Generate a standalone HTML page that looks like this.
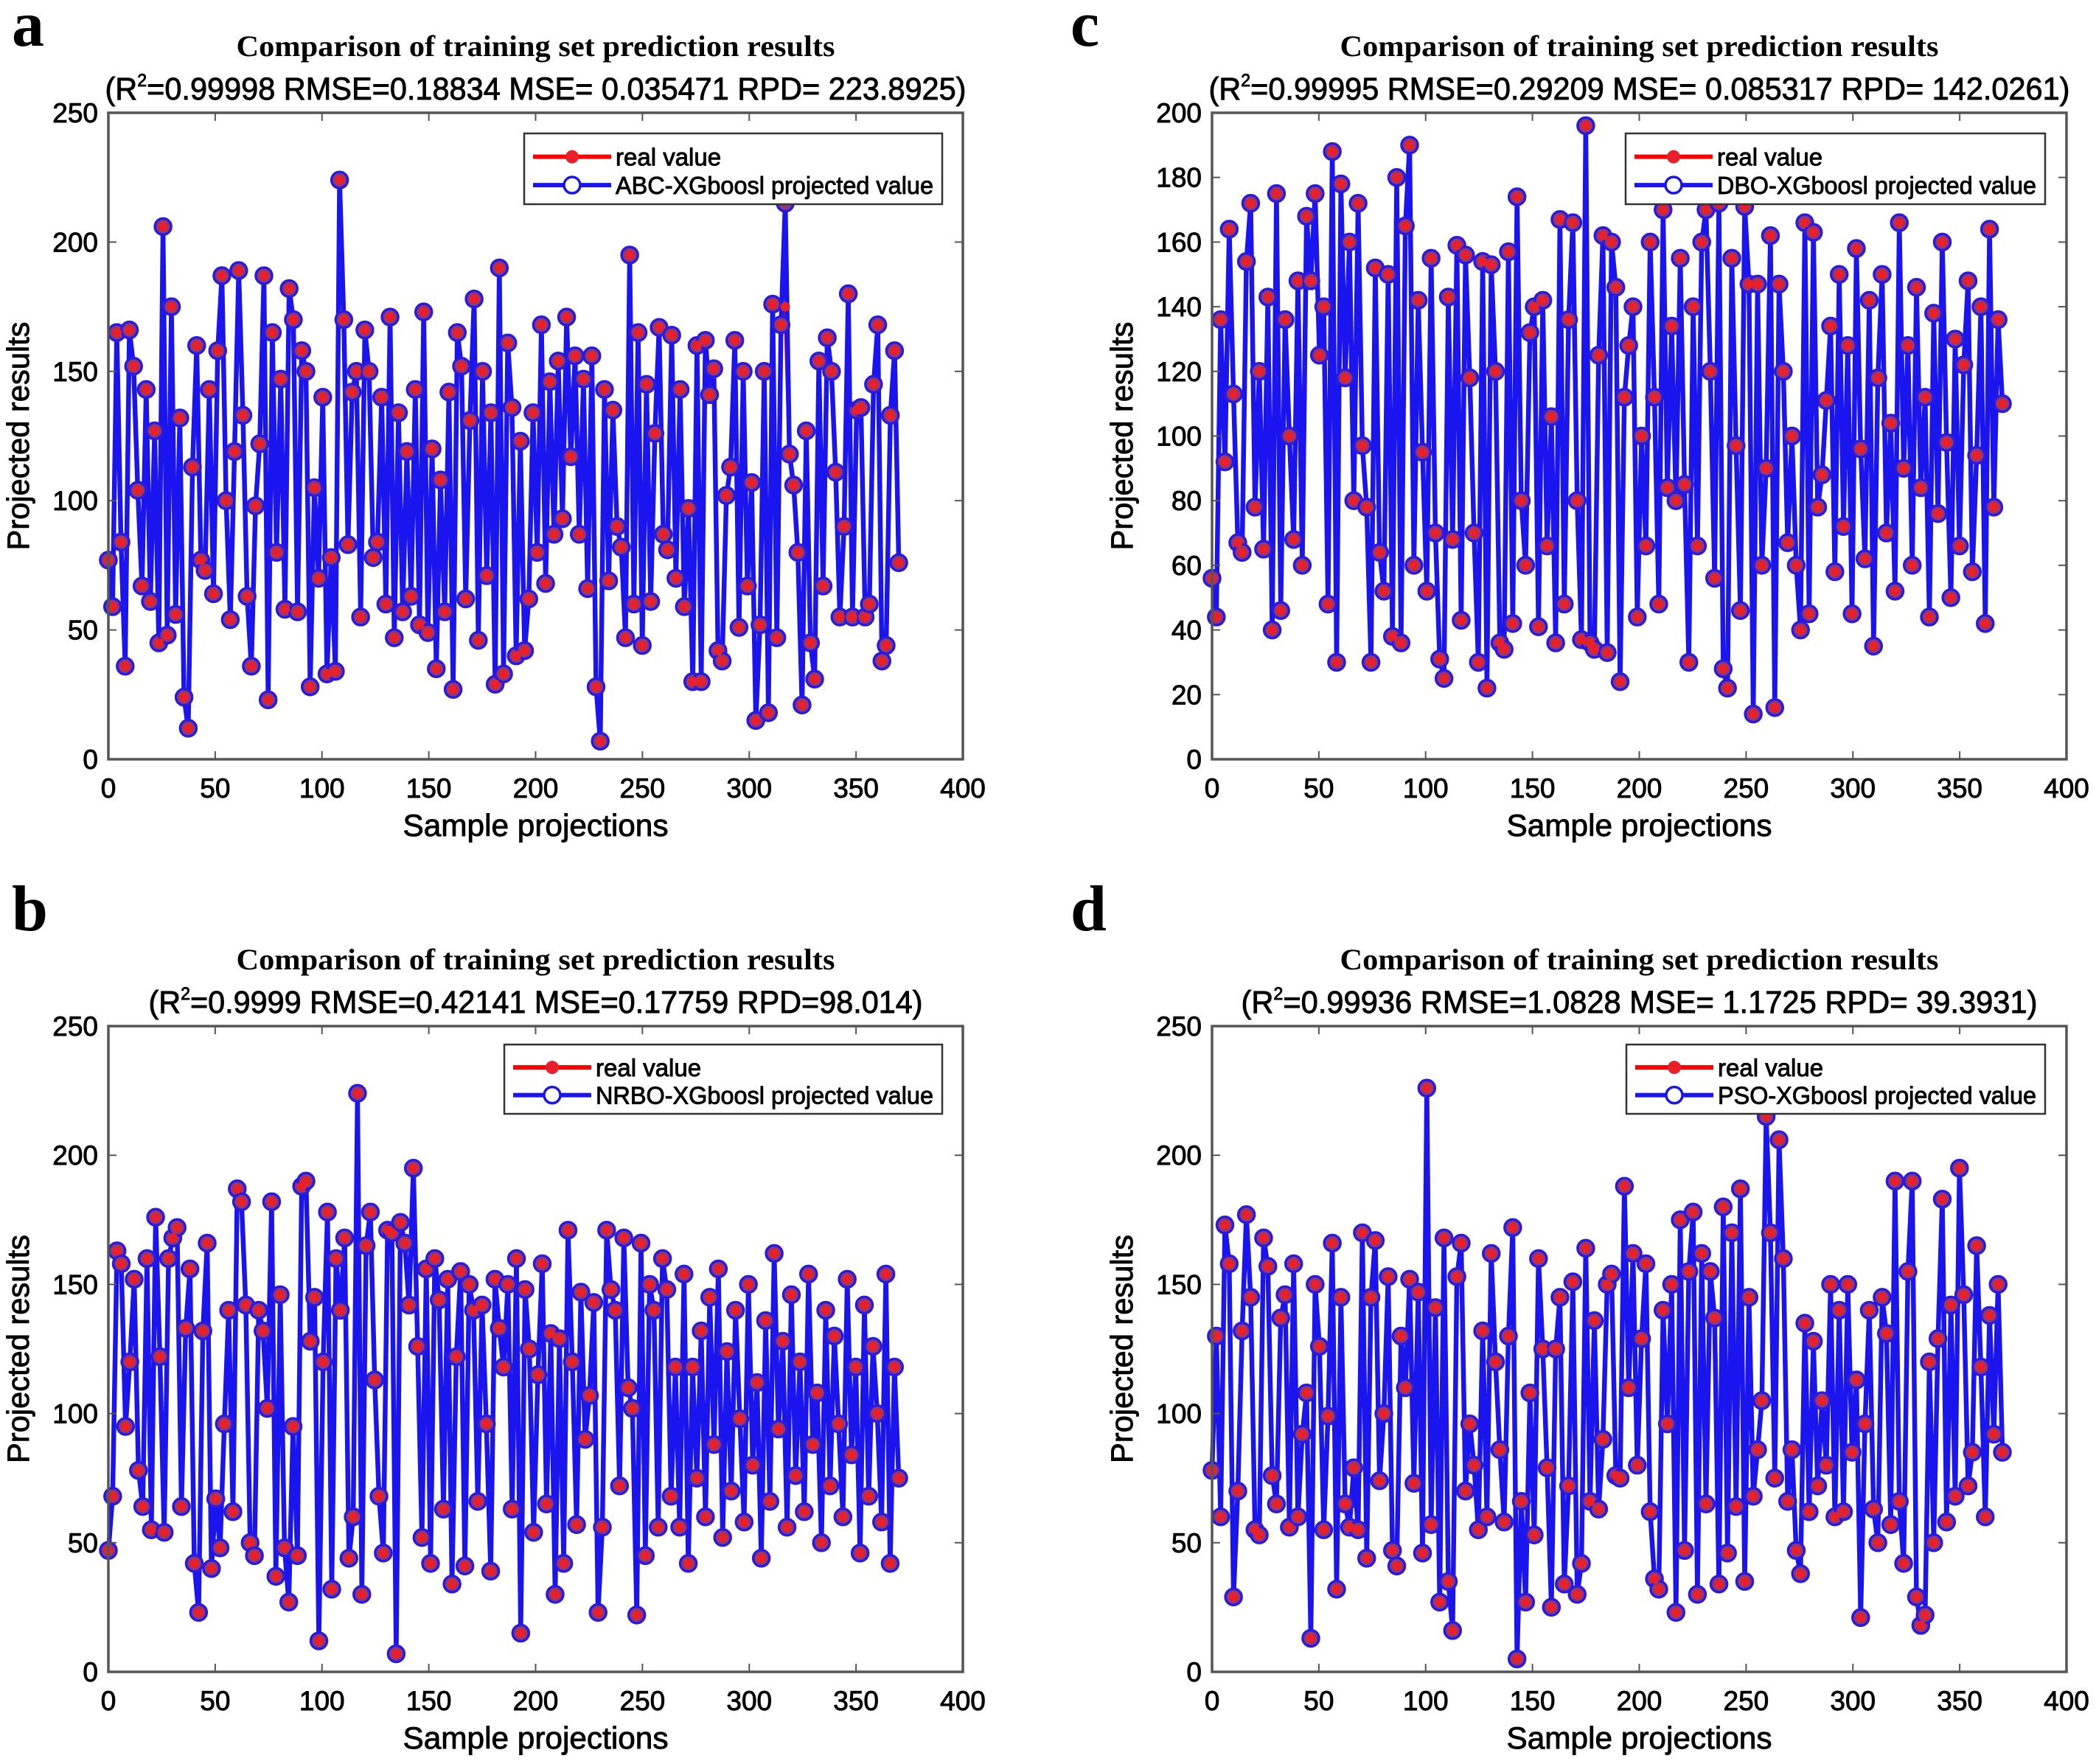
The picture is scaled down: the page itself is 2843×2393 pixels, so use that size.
<!DOCTYPE html>
<html><head><meta charset="utf-8"><style>
html,body{margin:0;padding:0;background:#fff;}
svg{display:block;}
</style></head><body>
<svg id="fig" width="2843" height="2393" viewBox="0 0 2843 2393" xmlns="http://www.w3.org/2000/svg"></svg>
<script>
const yTicksABD = [0,50,100,150,200,250];
const yTicksC = [0,20,40,60,80,100,120,140,160,180,200];
const xTicks = [0,50,100,150,200,250,300,350,400];

const realA = [77,59,165,84,36,166,152,104,67,143,61,127,45,206,48,175,56,132,24,12,113,160,77,73,143,64,158,187,100,54,119,189,133,63,36,98,122,187,23,165,80,147,58,182,170,57,158,150,28,105,70,140,33,78,34,224,170,83,142,150,55,166,150,78,84,140,60,171,47,134,57,119,63,143,52,173,49,120,35,108,57,142,27,165,152,62,131,178,46,150,71,134,29,190,33,161,136,40,123,42,62,134,80,168,68,146,87,154,93,171,117,156,87,147,66,156,28,7,143,69,135,90,82,47,195,60,165,44,145,61,126,167,87,81,164,70,143,59,97,30,160,30,162,141,151,42,38,102,113,162,51,150,67,107,15,52,150,18,176,47,168,175,118,106,80,21,127,45,31,154,67,163,150,111,55,90,180,55,135,136,55,60,145,168,38,44,133,158,76];
const predA = [77,59,165,84,36,166,152,104,67,143,61,127,45,206,48,175,56,132,24,12,113,160,77,73,143,64,158,187,100,54,119,189,133,63,36,98,122,187,23,165,80,147,58,182,170,57,158,150,28,105,70,140,33,78,34,224,170,83,142,150,55,166,150,78,84,140,60,171,47,134,57,119,63,143,52,173,49,120,35,108,57,142,27,165,152,62,131,178,46,150,71,134,29,190,33,161,136,40,123,42,62,134,80,168,68,146,87,154,93,171,117,156,87,147,66,156,28,7,143,69,135,90,82,47,195,60,165,44,145,61,126,167,87,81,164,70,143,59,97,30,160,30,162,141,151,42,38,102,113,162,51,150,67,107,15,52,150,18,176,47,168,215,118,106,80,21,127,45,31,154,67,163,150,111,55,90,180,55,135,136,55,60,145,168,38,44,133,158,76];

const realC = [56,44,136,92,164,113,67,64,154,172,78,120,65,143,40,175,46,136,100,68,148,60,168,148,175,125,140,48,188,30,178,118,160,80,172,97,78,30,152,64,52,150,38,180,36,165,190,60,142,95,52,155,70,31,25,143,68,159,43,156,118,70,30,154,22,153,120,36,34,157,42,174,80,60,132,140,41,142,66,106,36,167,48,136,166,80,37,196,36,34,125,162,33,160,146,24,112,128,140,44,100,66,160,112,48,170,84,134,80,155,85,30,140,66,160,170,120,56,172,28,22,155,97,46,171,147,14,147,60,90,162,16,147,120,67,100,60,40,166,45,163,78,88,111,134,58,150,72,128,45,158,96,62,142,35,118,150,70,104,52,166,90,128,60,146,84,112,44,138,76,160,98,50,130,66,122,148,58,94,140,42,164,78,136,110];
const predC = realC.slice();

const realB = [47,68,163,158,95,120,152,78,64,160,55,176,122,54,160,168,172,64,133,156,42,23,132,166,40,67,48,96,140,62,187,182,142,50,45,140,132,102,182,37,146,48,27,95,45,188,190,128,145,12,120,178,32,160,140,168,44,60,224,30,165,178,113,68,46,171,170,7,174,166,142,195,126,52,156,42,160,144,63,152,34,122,155,41,150,140,66,142,96,39,152,133,118,150,63,160,15,148,125,54,115,158,65,131,30,129,42,171,120,57,147,90,107,143,23,56,171,148,140,72,168,110,102,22,166,45,150,140,56,160,148,68,118,56,154,42,118,75,132,60,145,88,156,52,124,70,140,98,58,150,80,112,44,136,66,162,94,128,56,146,76,120,62,154,88,108,50,140,72,130,96,60,152,84,118,46,142,68,126,100,58,154,42,118,75];
const predB = realB.slice();

const realD = [78,130,60,173,158,29,70,132,177,145,55,53,168,157,76,65,137,146,56,158,60,92,108,13,150,126,55,99,166,32,145,65,56,79,55,170,44,145,167,74,100,153,47,41,130,110,152,73,147,46,226,57,141,27,168,35,16,153,166,70,96,80,55,132,60,162,120,86,58,130,172,5,66,27,108,53,160,125,79,25,125,145,34,72,151,30,42,164,66,136,63,90,150,154,76,75,188,110,162,80,129,158,62,36,32,140,96,150,23,175,47,155,178,30,162,65,155,137,34,180,46,170,64,187,35,145,68,86,105,215,170,75,206,160,66,86,47,38,135,62,128,72,105,80,150,60,140,62,150,85,113,21,96,140,63,50,145,131,57,190,66,42,155,190,29,18,22,120,50,129,183,58,142,68,195,146,72,85,165,118,60,138,92,150,85];
const predD = realD.slice();

const svg = document.getElementById('fig');
const NS = 'http://www.w3.org/2000/svg';
function mk(tag, attrs, parent){
  const e = document.createElementNS(NS, tag);
  for (const k in attrs) e.setAttribute(k, attrs[k]);
  (parent||svg).appendChild(e);
  return e;
}

const panels = [
  {id:'a', L:147, T:153, R:1306, B:1030, yMax:250, yTicks:yTicksABD, real:realA, pred:predA,
   stats:'=0.99998 RMSE=0.18834 MSE= 0.035471 RPD= 223.8925)', statW:1168, model:'ABC-XGboosl projected value',
   leg:{x:711,y:181,w:567,h:96}, letter:{x:16,y:62}},
  {id:'c', L:1644, T:153, R:2803, B:1030, yMax:200, yTicks:yTicksC, real:realC, pred:predC,
   stats:'=0.99995 RMSE=0.29209 MSE= 0.085317 RPD= 142.0261)', statW:1168, model:'DBO-XGboosl projected value',
   leg:{x:2205,y:181,w:569,h:96}, letter:{x:1452,y:62}},
  {id:'b', L:147, T:1392, R:1306, B:2268, yMax:250, yTicks:yTicksABD, real:realB, pred:predB,
   stats:'=0.9999 RMSE=0.42141 MSE=0.17759 RPD=98.014)', statW:1050, model:'NRBO-XGboosl projected value',
   leg:{x:684,y:1417,w:594,h:94}, letter:{x:16,y:1262}},
  {id:'d', L:1644, T:1392, R:2803, B:2268, yMax:250, yTicks:yTicksABD, real:realD, pred:predD,
   stats:'=0.99936 RMSE=1.0828 MSE= 1.1725 RPD= 39.3931)', statW:1080, model:'PSO-XGboosl projected value',
   leg:{x:2206,y:1417,w:568,h:94}, letter:{x:1452,y:1262}}
];

const F = '"Liberation Sans", Arial, sans-serif';
const FS = '"Liberation Serif", "Times New Roman", serif';
const TXT = {fill:'#000', stroke:'#000', 'stroke-width':0.9};

panels.forEach(p => {
  const g = mk('g', {});
  
  
  const xs = v => p.L + (v/400)*(p.R-p.L);
  const ys = v => p.B - (v/p.yMax)*(p.B-p.T);
  const cx = (p.L+p.R)/2;

  const letter = mk('text', {x:p.letter.x, y:p.letter.y, 'font-family':FS, 'font-weight':'bold', 'font-size':88, fill:'#000'}, g);
  letter.textContent = p.id;
  
  

  const t1 = mk('text', {x:cx, y:p.T-77, 'text-anchor':'middle', 'font-family':FS, 'font-weight':'bold', 'font-size':40, fill:'#000', textLength:812, lengthAdjust:'spacingAndGlyphs'}, g);
  t1.textContent = 'Comparison of training set prediction results';
  
  

  const t2 = mk('text', Object.assign({x:cx, y:p.T-18, 'text-anchor':'middle', 'font-family':F, 'font-size':43, textLength:p.statW, lengthAdjust:'spacingAndGlyphs'}, TXT), g);
  const s1 = mk('tspan', {}, t2); s1.textContent = '(R';
  const s2 = mk('tspan', {dy:-18, 'font-size':24}, t2); s2.textContent = '2';
  const s3 = mk('tspan', {dy:18}, t2); s3.textContent = p.stats;
  
  

  const bg = mk('rect', {x:p.L, y:p.T, width:p.R-p.L, height:p.B-p.T, fill:'#fff'}, g);
  
  

  const ptsR = p.real.map((v,i) => xs(i*370/(p.real.length-1)).toFixed(1)+','+ys(v).toFixed(1)).join(' ');
  const ptsP = p.pred.map((v,i) => xs(i*370/(p.pred.length-1)).toFixed(1)+','+ys(v).toFixed(1)).join(' ');
  const lr = mk('polyline', {points:ptsR, fill:'none', stroke:'#ff0000', 'stroke-width':5}, g);
  
  
  const lp = mk('polyline', {points:ptsP, fill:'none', stroke:'#1a14ee', 'stroke-width':6.5, 'stroke-linejoin':'round'}, g);
  
  
  p.pred.forEach((v,i) => {
    const c = mk('circle', {cx:xs(i*370/(p.pred.length-1)), cy:ys(v), r:11, fill:'#8a3a7a', stroke:'#2a1ae0', 'stroke-width':3.5}, g);
    
    
  });
  p.real.forEach((v,i) => {
    const c = mk('circle', {cx:xs(i*370/(p.real.length-1)), cy:ys(v), r:6.5, fill:'#e8202a'}, g);
    
    
  });

  const box = mk('rect', {x:p.L, y:p.T, width:p.R-p.L, height:p.B-p.T, fill:'none', stroke:'#555', 'stroke-width':3.5}, g);
  
  

  xTicks.forEach(v => {
    const x = xs(v);
    mk('line', {x1:x, y1:p.B, x2:x, y2:p.B-11, stroke:'#555', 'stroke-width':2}, g);
    mk('line', {x1:x, y1:p.T, x2:x, y2:p.T+11, stroke:'#555', 'stroke-width':2}, g);
    const tl = mk('text', Object.assign({x:x, y:p.B+52, 'text-anchor':'middle', 'font-family':F, 'font-size':37}, TXT), g);
    tl.textContent = v;
    
    
  });
  p.yTicks.forEach(v => {
    const y = ys(v);
    mk('line', {x1:p.L, y1:y, x2:p.L+11, y2:y, stroke:'#555', 'stroke-width':2}, g);
    mk('line', {x1:p.R, y1:y, x2:p.R-11, y2:y, stroke:'#555', 'stroke-width':2}, g);
    const tl = mk('text', Object.assign({x:p.L-14, y:y+13, 'text-anchor':'end', 'font-family':F, 'font-size':37}, TXT), g);
    tl.textContent = v;
    
    
  });

  const xl = mk('text', Object.assign({x:cx, y:p.B+104, 'text-anchor':'middle', 'font-family':F, 'font-size':42, textLength:360, lengthAdjust:'spacingAndGlyphs'}, TXT), g);
  xl.textContent = 'Sample projections';
  
  
  const ycy = (p.T+p.B)/2;
  const yl = mk('text', Object.assign({x:p.L-108, y:ycy, 'text-anchor':'middle', 'font-family':F, 'font-size':42, transform:'rotate(-90 '+(p.L-108)+' '+ycy+')', textLength:310, lengthAdjust:'spacingAndGlyphs'}, TXT), g);
  yl.textContent = 'Projected results';
  
  

  const lg = mk('g', {}, g);
  
  
  const L = p.leg;
  mk('rect', {x:L.x, y:L.y, width:L.w, height:L.h, fill:'#fff', stroke:'#333', 'stroke-width':2.5}, lg);
  const r1 = L.y + L.h*0.33, r2 = L.y + L.h*0.73;
  const e1 = mk('g', {}, lg);
  
  
  mk('line', {x1:L.x+12, y1:r1, x2:L.x+118, y2:r1, stroke:'#ff0000', 'stroke-width':6}, e1);
  mk('circle', {cx:L.x+65, cy:r1, r:9, fill:'#e8202a'}, e1);
  const tx1 = mk('text', Object.assign({x:L.x+124, y:r1+12, 'font-family':F, 'font-size':33}, TXT), e1);
  tx1.textContent = 'real value';
  const e2 = mk('g', {}, lg);
  
  
  mk('line', {x1:L.x+12, y1:r2, x2:L.x+118, y2:r2, stroke:'#1a14ee', 'stroke-width':6}, e2);
  mk('circle', {cx:L.x+65, cy:r2, r:11, fill:'#fff', stroke:'#1a14ee', 'stroke-width':3.5}, e2);
  const tx2 = mk('text', Object.assign({x:L.x+124, y:r2+12, 'font-family':F, 'font-size':33, textLength:L.w-136, lengthAdjust:'spacingAndGlyphs'}, TXT), e2);
  tx2.textContent = p.model;
});
</script>
</body></html>
